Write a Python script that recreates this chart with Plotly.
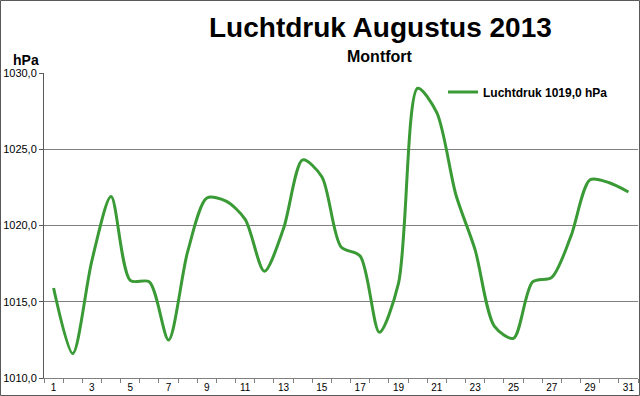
import plotly.graph_objects as go

days = list(range(1, 32))
pressure = [1015.9, 1011.6, 1017.7, 1021.9, 1016.4, 1016.3, 1012.5, 1018.3, 1021.8, 1021.6,
            1020.4, 1017.0, 1019.8, 1024.3, 1023.2, 1018.6, 1018.0, 1013.0, 1016.2, 1029.0,
            1027.4, 1022.0, 1018.4, 1013.4, 1012.6, 1016.3, 1016.6, 1019.3, 1023.0, 1022.8,
            1022.2]
series_name = "Luchtdruk 1019,0 hPa"
xtick_vals = list(range(1, 32, 2))
xtick_text = [str(v) for v in xtick_vals]

W, H = 640, 396
L, R, T, B = 44, 2, 73, 18
pw, ph = W - L - R, H - T - B

fig = go.Figure()
fig.add_trace(go.Scatter(
    x=days, y=pressure, mode="lines", name="<b>" + series_name + "</b>",
    line=dict(color="#3a9a35", width=3, shape="spline", smoothing=0.8),
))

fig.update_layout(
    width=W, height=H,
    margin=dict(l=L, r=R, t=T, b=B),
    paper_bgcolor="white", plot_bgcolor="white",
    separators=",.",
    font=dict(family="Arial, Liberation Sans, sans-serif", color="black"),
    showlegend=True,
    legend=dict(x=(443 - L) / pw, y=0.985, xanchor="left", yanchor="top",
                font=dict(size=12, color="black"),
                bgcolor="rgba(0,0,0,0)", itemwidth=30, tracegroupgap=0),
    xaxis=dict(range=[0.5, 31.5], tickmode="array", tickvals=xtick_vals, ticktext=xtick_text,
               ticks="", showgrid=False, zeroline=False, showline=True, linecolor="#808080",
               linewidth=1, tickfont=dict(size=10, color="black"),
               minor=dict(ticks="outside", tick0=0.5, dtick=1, ticklen=4, tickcolor="#808080",
                          showgrid=False)),
    yaxis=dict(range=[1010, 1030], dtick=5, tick0=1010, tickformat=".1f",
               showgrid=True, gridcolor="#7f7f7f", gridwidth=1, zeroline=False,
               showline=True, linecolor="#595959", linewidth=1,
               ticks="outside", ticklen=4, tickcolor="#595959",
               tickfont=dict(size=11, color="black")),
)

fig.add_annotation(text="<b>Luchtdruk Augustus 2013</b>", xref="paper", yref="paper",
                   x=(380 - L) / pw, y=(H - B - 27) / ph, xanchor="center", yanchor="middle",
                   showarrow=False, font=dict(size=28, color="black"))
fig.add_annotation(text="<b>Montfort</b>", xref="paper", yref="paper",
                   x=(380 - L) / pw, y=(H - B - 56) / ph, xanchor="center", yanchor="middle",
                   showarrow=False, font=dict(size=16, color="black"))
fig.add_annotation(text="<b>hPa</b>", xref="paper", yref="paper",
                   x=(26 - L) / pw, y=(H - B - 60) / ph, xanchor="center", yanchor="middle",
                   showarrow=False, font=dict(size=14, color="black"))

fig.add_shape(type="rect", xref="paper", yref="paper",
              x0=(0.5 - L) / pw, x1=(W - 0.5 - L) / pw,
              y0=(H - B - (H - 0.5)) / ph, y1=(H - B - 0.5) / ph,
              line=dict(color="#595959", width=1), fillcolor="rgba(0,0,0,0)", layer="above")

fig.write_html("out.html")
